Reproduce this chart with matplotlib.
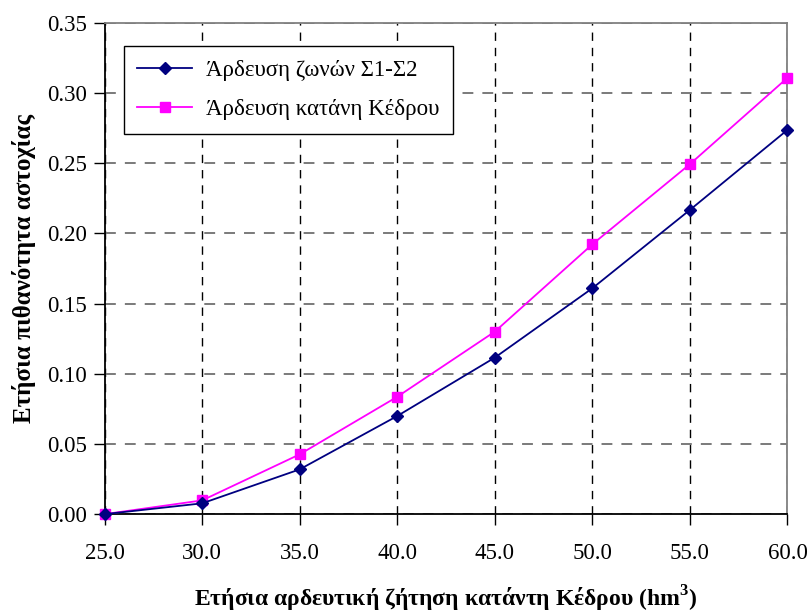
import numpy as np
import matplotlib
matplotlib.use('Agg')
import matplotlib.pyplot as plt

matplotlib.rcParams['font.family'] = 'Liberation Serif'
matplotlib.rcParams['mathtext.fontset'] = 'custom'
matplotlib.rcParams['mathtext.rm'] = 'Liberation Serif'
matplotlib.rcParams['mathtext.bf'] = 'Liberation Serif:bold'

demand = [25.0, 30.0, 35.0, 40.0, 45.0, 50.0, 55.0, 60.0]
zones_s1_s2 = [0.0, 0.0077, 0.0319, 0.0699, 0.1115, 0.1609, 0.2167, 0.2737]
downstream_kedros = [0.0, 0.0098, 0.0426, 0.0836, 0.1300, 0.1922, 0.2493, 0.3108]

label_zones = 'Άρδευση ζωνών Σ1-Σ2'
label_down = 'Άρδευση κατάνη Κέδρου'

fig = plt.figure(figsize=(8.11, 6.15), dpi=100)
ax = fig.add_axes([0.129, 0.164, 0.842, 0.799])

ax.plot(demand, zones_s1_s2, color='#000080', marker='D', markersize=6.5,
        linewidth=1.3, label=label_zones, clip_on=False, zorder=4)
ax.plot(demand, downstream_kedros, color='#FF00FF', marker='s', markersize=7.5,
        linewidth=1.3, label=label_down, clip_on=False, zorder=3)

ax.set_xlim(25, 60)
ax.set_ylim(0, 0.35)
ax.set_xticks(np.arange(25, 61, 5))
ax.set_yticks(np.arange(0, 0.351, 0.05))
ax.set_xticklabels(['%.1f' % v for v in np.arange(25, 61, 5)])
ax.set_yticklabels(['%.2f' % v for v in np.arange(0, 0.351, 0.05)])

ax.xaxis.grid(True, color='black', linestyle=(0, (6, 5)), linewidth=1.0)
ax.yaxis.grid(True, color='#707070', linestyle=(0, (6, 5)), linewidth=1.3)
ax.set_axisbelow(True)

ax.spines['left'].set_color('black')
ax.spines['bottom'].set_color('black')
ax.spines['top'].set_color('#808080')
ax.spines['right'].set_color('#808080')
for s in ax.spines.values():
    s.set_linewidth(1.3)

ax.tick_params(axis='both', direction='out', length=8, width=1.0,
               labelsize=16.5, colors='black')
ax.tick_params(axis='x', pad=13)
ax.tick_params(axis='y', pad=5)

ax.set_xlabel('Ετήσια αρδευτική ζήτηση κατάντη Κέδρου (hm$^\\mathbf{3}$)',
              fontsize=17, fontweight='bold', labelpad=14)
ax.set_ylabel('Ετήσια πιθανότητα αστοχίας', fontsize=18, fontweight='bold',
              labelpad=8)

leg = ax.legend(loc='upper left', bbox_to_anchor=(0.028, 0.953), fontsize=16.5,
                fancybox=False, framealpha=1, edgecolor='black',
                handlelength=2.4, borderpad=0.6, labelspacing=0.8,
                handletextpad=0.6, borderaxespad=0)
leg.get_frame().set_linewidth(1.0)

plt.savefig('out.png', dpi=100)
